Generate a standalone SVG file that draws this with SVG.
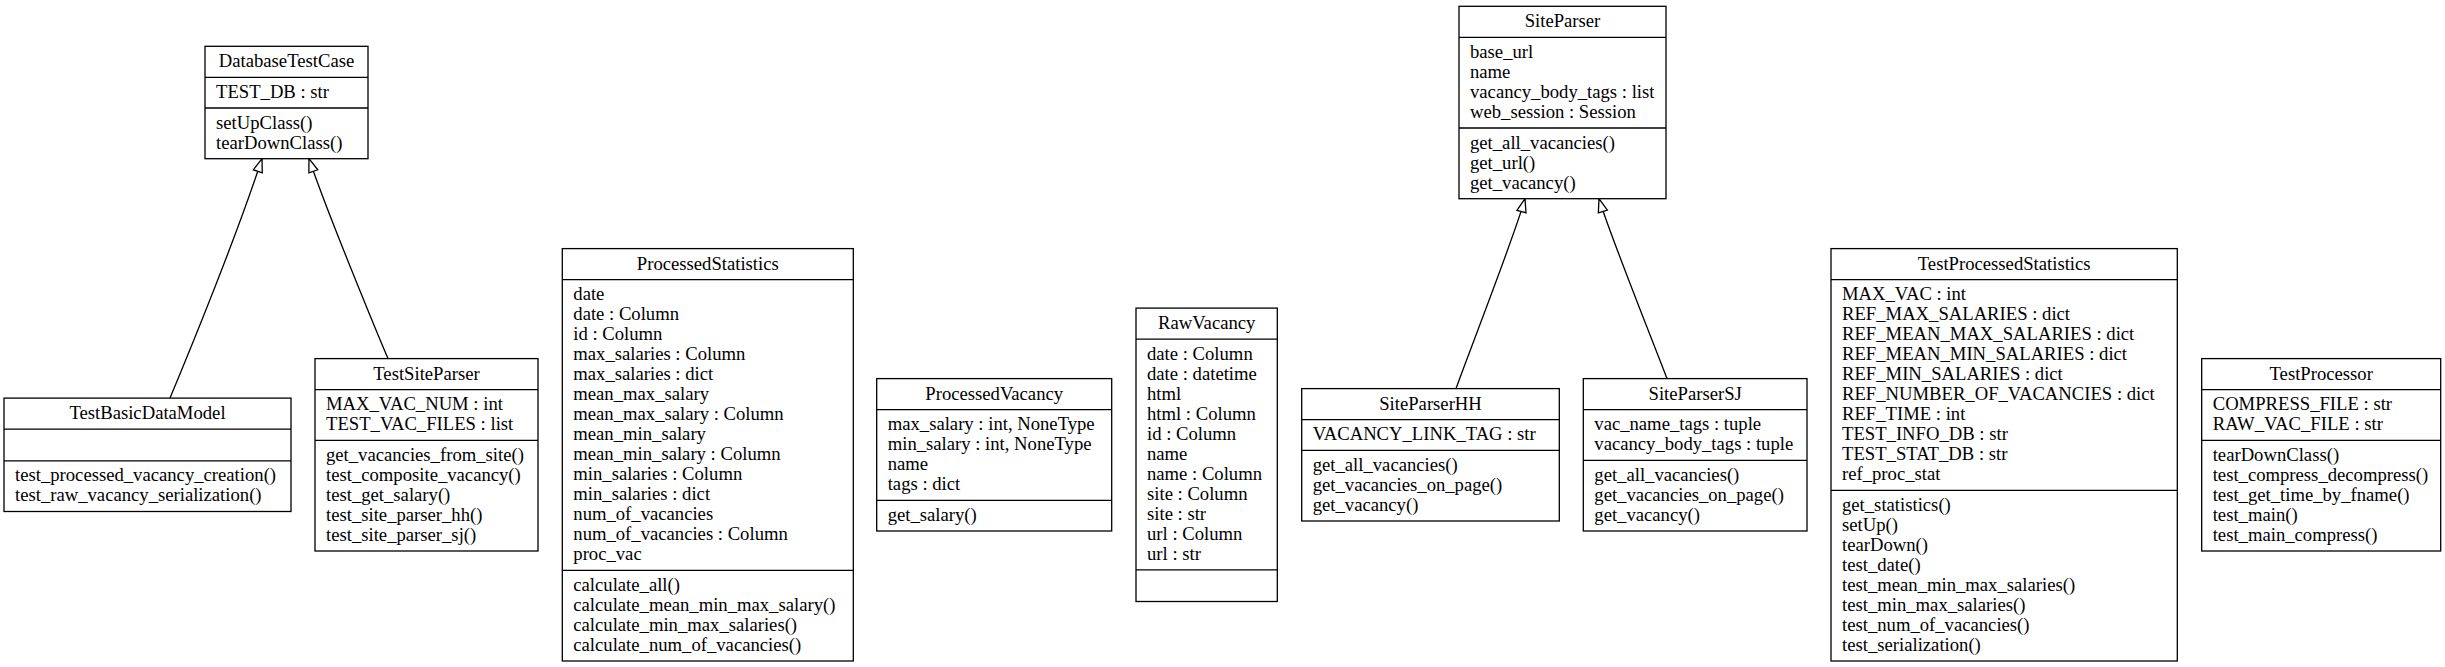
<svg xmlns="http://www.w3.org/2000/svg" width="2445" height="667" viewBox="0 0 2445 667">
<style>
  .box { fill: #ffffff; stroke: #000000; stroke-width: 1.3; }
  .div { stroke: #000000; stroke-width: 1.3; }
  text { font-family: "Liberation Serif", "Times New Roman", serif; font-size: 18.67px; fill: #000000; }
  .title { text-anchor: middle; }
  .edge { fill: none; stroke: #000000; stroke-width: 1.3; }
</style>
<defs>
  <marker id="inh" viewBox="-1 -6 16 12" refX="13.3" refY="0" markerWidth="16" markerHeight="12" markerUnits="userSpaceOnUse" orient="auto" overflow="visible">
    <path d="M0,-4.7 L13.3,0 L0,4.7 Z" fill="#ffffff" stroke="#000000" stroke-width="1.3"/>
  </marker>
</defs>
<rect x="0" y="0" width="2445" height="667" fill="#ffffff"/>

<g id="connectors">
  <path class="edge" d="M170,398.1 C190,350 235,240 262,158.7" marker-end="url(#inh)"/>
  <path class="edge" d="M388,358.6 C383,347 330,220 309,158.7" marker-end="url(#inh)"/>
  <path class="edge" d="M1456,388.6 C1466,360 1515,235 1525,198.7" marker-end="url(#inh)"/>
  <path class="edge" d="M1667,378.6 C1657,352 1610,235 1599,198.7" marker-end="url(#inh)"/>
</g>

<g id="DatabaseTestCase">
  <rect class="box" x="205" y="46.3" width="163" height="112.4"/>
  <line class="div" x1="205" y1="77.3" x2="368" y2="77.3"/>
  <line class="div" x1="205" y1="108" x2="368" y2="108"/>
  <text class="title" x="286.5" y="67.3">DatabaseTestCase</text>
  <text x="216" y="97.8">TEST_DB : str</text>
  <text x="216" y="128.5">setUpClass()</text>
  <text x="216" y="148.5">tearDownClass()</text>
</g>

<g id="SiteParser">
  <rect class="box" x="1459" y="6.3" width="207" height="192.4"/>
  <line class="div" x1="1459" y1="37.3" x2="1666" y2="37.3"/>
  <line class="div" x1="1459" y1="128" x2="1666" y2="128"/>
  <text class="title" x="1562.5" y="27.3">SiteParser</text>
  <text x="1470" y="57.8">base_url</text>
  <text x="1470" y="77.8">name</text>
  <text x="1470" y="97.8">vacancy_body_tags : list</text>
  <text x="1470" y="117.8">web_session : Session</text>
  <text x="1470" y="148.5">get_all_vacancies()</text>
  <text x="1470" y="168.5">get_url()</text>
  <text x="1470" y="188.5">get_vacancy()</text>
</g>

<g id="TestBasicDataModel">
  <rect class="box" x="4" y="398.1" width="287" height="113.4"/>
  <line class="div" x1="4" y1="429.1" x2="291" y2="429.1"/>
  <line class="div" x1="4" y1="460.8" x2="291" y2="460.8"/>
  <text class="title" x="147.5" y="419.1">TestBasicDataModel</text>
  <text x="15" y="481.3">test_processed_vacancy_creation()</text>
  <text x="15" y="501.3">test_raw_vacancy_serialization()</text>
</g>

<g id="TestSiteParser">
  <rect class="box" x="315" y="358.6" width="223" height="192.4"/>
  <line class="div" x1="315" y1="389.6" x2="538" y2="389.6"/>
  <line class="div" x1="315" y1="440.3" x2="538" y2="440.3"/>
  <text class="title" x="426.5" y="379.6">TestSiteParser</text>
  <text x="326" y="410.1">MAX_VAC_NUM : int</text>
  <text x="326" y="430.1">TEST_VAC_FILES : list</text>
  <text x="326" y="460.8">get_vacancies_from_site()</text>
  <text x="326" y="480.8">test_composite_vacancy()</text>
  <text x="326" y="500.8">test_get_salary()</text>
  <text x="326" y="520.8">test_site_parser_hh()</text>
  <text x="326" y="540.8">test_site_parser_sj()</text>
</g>

<g id="ProcessedStatistics">
  <rect class="box" x="562.3" y="248.6" width="291" height="412.4"/>
  <line class="div" x1="562.3" y1="279.6" x2="853.3" y2="279.6"/>
  <line class="div" x1="562.3" y1="570.3" x2="853.3" y2="570.3"/>
  <text class="title" x="707.8" y="269.6">ProcessedStatistics</text>
  <text x="573.3" y="300.1">date</text>
  <text x="573.3" y="320.1">date : Column</text>
  <text x="573.3" y="340.1">id : Column</text>
  <text x="573.3" y="360.1">max_salaries : Column</text>
  <text x="573.3" y="380.1">max_salaries : dict</text>
  <text x="573.3" y="400.1">mean_max_salary</text>
  <text x="573.3" y="420.1">mean_max_salary : Column</text>
  <text x="573.3" y="440.1">mean_min_salary</text>
  <text x="573.3" y="460.1">mean_min_salary : Column</text>
  <text x="573.3" y="480.1">min_salaries : Column</text>
  <text x="573.3" y="500.1">min_salaries : dict</text>
  <text x="573.3" y="520.1">num_of_vacancies</text>
  <text x="573.3" y="540.1">num_of_vacancies : Column</text>
  <text x="573.3" y="560.1">proc_vac</text>
  <text x="573.3" y="590.8">calculate_all()</text>
  <text x="573.3" y="610.8">calculate_mean_min_max_salary()</text>
  <text x="573.3" y="630.8">calculate_min_max_salaries()</text>
  <text x="573.3" y="650.8">calculate_num_of_vacancies()</text>
</g>

<g id="ProcessedVacancy">
  <rect class="box" x="876.7" y="378.6" width="235" height="152.4"/>
  <line class="div" x1="876.7" y1="409.6" x2="1111.7" y2="409.6"/>
  <line class="div" x1="876.7" y1="500.3" x2="1111.7" y2="500.3"/>
  <text class="title" x="994.2" y="399.6">ProcessedVacancy</text>
  <text x="887.7" y="430.1">max_salary : int, NoneType</text>
  <text x="887.7" y="450.1">min_salary : int, NoneType</text>
  <text x="887.7" y="470.1">name</text>
  <text x="887.7" y="490.1">tags : dict</text>
  <text x="887.7" y="520.8">get_salary()</text>
</g>

<g id="RawVacancy">
  <rect class="box" x="1136" y="308.1" width="141.3" height="293.4"/>
  <line class="div" x1="1136" y1="339.1" x2="1277.3" y2="339.1"/>
  <line class="div" x1="1136" y1="569.8" x2="1277.3" y2="569.8"/>
  <text class="title" x="1206.7" y="329.1">RawVacancy</text>
  <text x="1147" y="359.6">date : Column</text>
  <text x="1147" y="379.6">date : datetime</text>
  <text x="1147" y="399.6">html</text>
  <text x="1147" y="419.6">html : Column</text>
  <text x="1147" y="439.6">id : Column</text>
  <text x="1147" y="459.6">name</text>
  <text x="1147" y="479.6">name : Column</text>
  <text x="1147" y="499.6">site : Column</text>
  <text x="1147" y="519.6">site : str</text>
  <text x="1147" y="539.6">url : Column</text>
  <text x="1147" y="559.6">url : str</text>
</g>

<g id="SiteParserHH">
  <rect class="box" x="1301.7" y="388.6" width="257.6" height="132.4"/>
  <line class="div" x1="1301.7" y1="419.6" x2="1559.3" y2="419.6"/>
  <line class="div" x1="1301.7" y1="450.3" x2="1559.3" y2="450.3"/>
  <text class="title" x="1430.5" y="409.6">SiteParserHH</text>
  <text x="1312.7" y="440.1">VACANCY_LINK_TAG : str</text>
  <text x="1312.7" y="470.8">get_all_vacancies()</text>
  <text x="1312.7" y="490.8">get_vacancies_on_page()</text>
  <text x="1312.7" y="510.8">get_vacancy()</text>
</g>

<g id="SiteParserSJ">
  <rect class="box" x="1583.3" y="378.6" width="223.7" height="152.4"/>
  <line class="div" x1="1583.3" y1="409.6" x2="1807" y2="409.6"/>
  <line class="div" x1="1583.3" y1="460.3" x2="1807" y2="460.3"/>
  <text class="title" x="1695.2" y="399.6">SiteParserSJ</text>
  <text x="1594.3" y="430.1">vac_name_tags : tuple</text>
  <text x="1594.3" y="450.1">vacancy_body_tags : tuple</text>
  <text x="1594.3" y="480.8">get_all_vacancies()</text>
  <text x="1594.3" y="500.8">get_vacancies_on_page()</text>
  <text x="1594.3" y="520.8">get_vacancy()</text>
</g>

<g id="TestProcessedStatistics">
  <rect class="box" x="1831" y="248.6" width="346.3" height="412.4"/>
  <line class="div" x1="1831" y1="279.6" x2="2177.3" y2="279.6"/>
  <line class="div" x1="1831" y1="490.3" x2="2177.3" y2="490.3"/>
  <text class="title" x="2004.2" y="269.6">TestProcessedStatistics</text>
  <text x="1842" y="300.1">MAX_VAC : int</text>
  <text x="1842" y="320.1">REF_MAX_SALARIES : dict</text>
  <text x="1842" y="340.1">REF_MEAN_MAX_SALARIES : dict</text>
  <text x="1842" y="360.1">REF_MEAN_MIN_SALARIES : dict</text>
  <text x="1842" y="380.1">REF_MIN_SALARIES : dict</text>
  <text x="1842" y="400.1">REF_NUMBER_OF_VACANCIES : dict</text>
  <text x="1842" y="420.1">REF_TIME : int</text>
  <text x="1842" y="440.1">TEST_INFO_DB : str</text>
  <text x="1842" y="460.1">TEST_STAT_DB : str</text>
  <text x="1842" y="480.1">ref_proc_stat</text>
  <text x="1842" y="510.8">get_statistics()</text>
  <text x="1842" y="530.8">setUp()</text>
  <text x="1842" y="550.8">tearDown()</text>
  <text x="1842" y="570.8">test_date()</text>
  <text x="1842" y="590.8">test_mean_min_max_salaries()</text>
  <text x="1842" y="610.8">test_min_max_salaries()</text>
  <text x="1842" y="630.8">test_num_of_vacancies()</text>
  <text x="1842" y="650.8">test_serialization()</text>
</g>

<g id="TestProcessor">
  <rect class="box" x="2201.7" y="358.6" width="239" height="192.4"/>
  <line class="div" x1="2201.7" y1="389.6" x2="2440.7" y2="389.6"/>
  <line class="div" x1="2201.7" y1="440.3" x2="2440.7" y2="440.3"/>
  <text class="title" x="2321.2" y="379.6">TestProcessor</text>
  <text x="2212.7" y="410.1">COMPRESS_FILE : str</text>
  <text x="2212.7" y="430.1">RAW_VAC_FILE : str</text>
  <text x="2212.7" y="460.8">tearDownClass()</text>
  <text x="2212.7" y="480.8">test_compress_decompress()</text>
  <text x="2212.7" y="500.8">test_get_time_by_fname()</text>
  <text x="2212.7" y="520.8">test_main()</text>
  <text x="2212.7" y="540.8">test_main_compress()</text>
</g>
</svg>
